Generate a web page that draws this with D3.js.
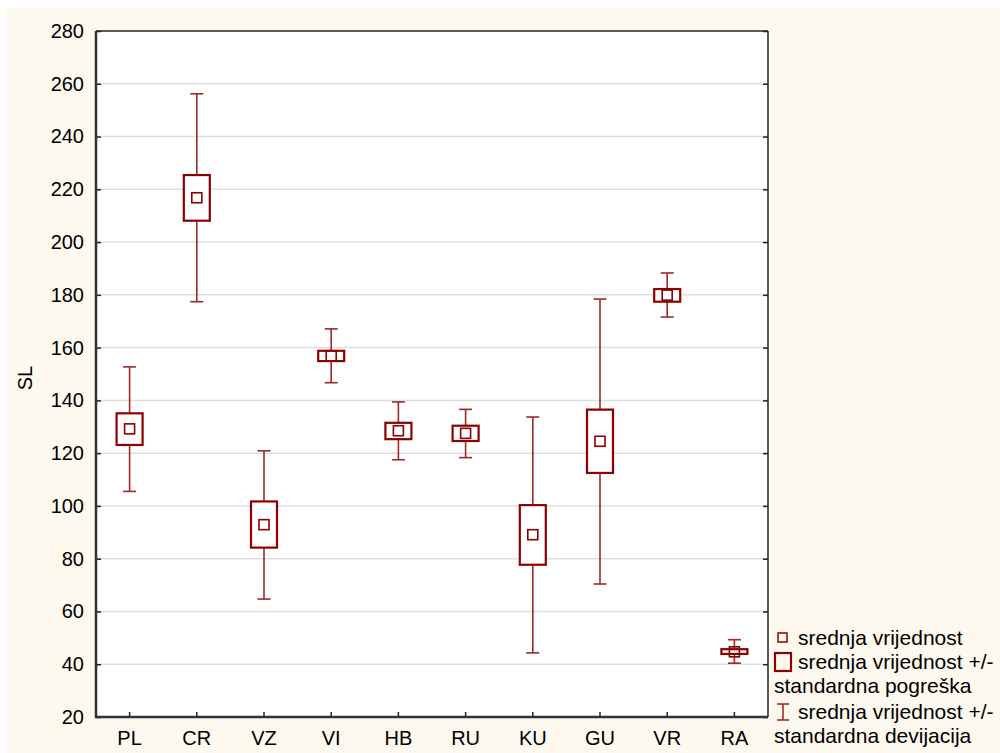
<!doctype html>
<html>
<head>
<meta charset="UTF-8">
<title>SL</title>
<script src="https://d3js.org/d3.v7.min.js"></script>
<style>
  body { margin: 0; background: #fff; }
  text { font-family: "Liberation Sans", Arial, sans-serif; }
</style>
</head>
<body>
<script>
// data
var groups   = ["PL", "CR", "VZ", "VI", "HB", "RU", "KU", "GU", "VR", "RA"];
var means    = [129.2, 216.8, 92.9, 156.9, 128.5, 127.5, 89.1, 124.5, 179.9, 44.7];
var seLow    = [123.1, 208.1, 84.2, 154.9, 125.3, 124.6, 77.7, 112.5, 177.4, 43.9];
var seHigh   = [135.1, 225.4, 101.7, 158.8, 131.5, 130.4, 100.3, 136.5, 182.2, 45.7];
var sdLow    = [105.5, 177.4, 64.7, 146.7, 117.5, 118.3, 44.3, 70.4, 171.6, 40.4];
var sdHigh   = [152.7, 256.2, 120.9, 167.1, 139.4, 136.6, 133.7, 178.4, 188.3, 49.3];
var yTicks   = [20, 40, 60, 80, 100, 120, 140, 160, 180, 200, 220, 240, 260, 280];
var legendTx = ["srednja vrijednost", "srednja vrijednost +/-", "standardna pogreška",
                "srednja vrijednost +/-", "standardna devijacija"];

var W = 1000, H = 753;
var L = 96, T = 31, R = 768, B = 717;
var red = "#8b0000", red2 = "#9b2a2a";

var svg = d3.select("body").append("svg").attr("width", W).attr("height", H);

svg.append("rect").attr("x", 6).attr("y", 8).attr("width", W - 6).attr("height", H - 8)
   .attr("fill", "#fdf9ee");
svg.append("rect").attr("x", L).attr("y", T).attr("width", R - L).attr("height", B - T)
   .attr("fill", "#fff");

var x = d3.scaleBand().domain(groups).range([L, R]);
var y = d3.scaleLinear().domain([20, 280]).range([B, T]);

// grid
svg.selectAll("line.grid").data(yTicks.slice(1, -1)).enter().append("line")
   .attr("class", "grid")
   .attr("x1", L).attr("x2", R)
   .attr("y1", function(d){ return y(d); }).attr("y2", function(d){ return y(d); })
   .attr("stroke", "#dedede").attr("stroke-width", 1.5);

// axes
var yAxis = svg.append("g").attr("transform", "translate(" + L + ",0)")
   .call(d3.axisLeft(y).tickValues(yTicks).tickSizeInner(-5).tickSizeOuter(0).tickPadding(12));
var yAxisR = svg.append("g").attr("transform", "translate(" + R + ",0)")
   .call(d3.axisRight(y).tickValues(yTicks).tickSizeInner(-5).tickSizeOuter(0).tickFormat(""));
var xAxis = svg.append("g").attr("transform", "translate(0," + B + ")")
   .call(d3.axisBottom(x).tickSizeInner(-5).tickSizeOuter(0).tickPadding(14));

[yAxis, yAxisR, xAxis].forEach(function(g){
  g.selectAll("text").attr("font-size", 20).attr("fill", "#000")
   .attr("font-family", "Liberation Sans, Arial, sans-serif");
  g.selectAll("line").attr("stroke", "#222").attr("stroke-width", 1.5);
  g.select(".domain").remove();
});

// frame
svg.append("line").attr("x1", L).attr("x2", R).attr("y1", T).attr("y2", T).attr("stroke", "#222").attr("stroke-width", 1.5);
svg.append("line").attr("x1", R).attr("x2", R).attr("y1", T).attr("y2", B).attr("stroke", "#222").attr("stroke-width", 1.5);
svg.append("line").attr("x1", L).attr("x2", L).attr("y1", T).attr("y2", B + 1).attr("stroke", "#333").attr("stroke-width", 2.5);
svg.append("line").attr("x1", L - 1).attr("x2", R).attr("y1", B).attr("y2", B).attr("stroke", "#333").attr("stroke-width", 2.5);

svg.append("text").attr("transform", "translate(32,378) rotate(-90)")
   .attr("text-anchor", "middle").attr("font-size", 20).text("SL");

// boxes
var cx = function(i){ return x(groups[i]) + x.bandwidth() / 2; };
var boxW = 26, capW = 13, meanS = 10;

groups.forEach(function(g, i){
  var c = cx(i);
  var gg = svg.append("g");
  gg.append("line").attr("x1", c).attr("x2", c).attr("y1", y(sdHigh[i])).attr("y2", y(sdLow[i]))
    .attr("stroke", red2).attr("stroke-width", 1.6);
  [sdHigh[i], sdLow[i]].forEach(function(v){
    gg.append("line").attr("x1", c - capW / 2).attr("x2", c + capW / 2)
      .attr("y1", y(v)).attr("y2", y(v)).attr("stroke", red2).attr("stroke-width", 1.6);
  });
  gg.append("rect").attr("x", c - boxW / 2).attr("y", y(seHigh[i]))
    .attr("width", boxW).attr("height", y(seLow[i]) - y(seHigh[i]))
    .attr("fill", "#fff").attr("stroke", red).attr("stroke-width", 2.2);
  gg.append("rect").attr("x", c - meanS / 2).attr("y", y(means[i]) - meanS / 2)
    .attr("width", meanS).attr("height", meanS)
    .attr("fill", "none").attr("stroke", red).attr("stroke-width", 1.6);
});

// legend
var lg = svg.append("g");
lg.append("rect").attr("x", 778).attr("y", 633).attr("width", 9).attr("height", 9)
  .attr("fill", "none").attr("stroke", red).attr("stroke-width", 1.5);
lg.append("rect").attr("x", 775).attr("y", 653).attr("width", 16).attr("height", 18)
  .attr("fill", "none").attr("stroke", red).attr("stroke-width", 2.2);
lg.append("line").attr("x1", 783).attr("x2", 783).attr("y1", 704).attr("y2", 720).attr("stroke", red2).attr("stroke-width", 1.6);
lg.append("line").attr("x1", 777).attr("x2", 789).attr("y1", 704).attr("y2", 704).attr("stroke", red2).attr("stroke-width", 1.6);
lg.append("line").attr("x1", 777).attr("x2", 789).attr("y1", 720).attr("y2", 720).attr("stroke", red2).attr("stroke-width", 1.6);

var lx = [798, 798, 774, 798, 774];
var ly = [645, 669, 693, 719, 743];
legendTx.forEach(function(t, i){
  lg.append("text").attr("x", lx[i]).attr("y", ly[i]).attr("font-size", 21).text(t);
});
</script>
</body>
</html>
